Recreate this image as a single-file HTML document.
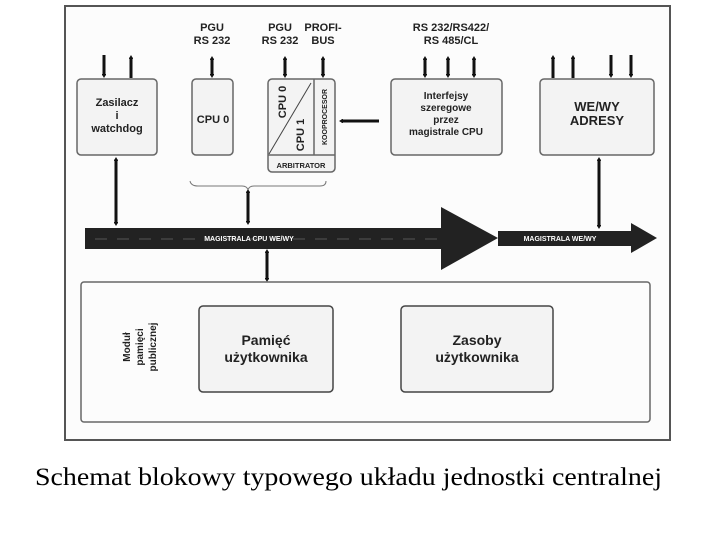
<!DOCTYPE html>
<html><head><meta charset="utf-8"><style>
body{margin:0;background:#fff;width:720px;height:540px;overflow:hidden}
svg{display:block}
text{font-family:"Liberation Sans",sans-serif;font-weight:bold;fill:#222}
</style></head><body>
<svg width="720" height="540" viewBox="0 0 720 540">
<defs>
<marker id="ah" markerWidth="4" markerHeight="4" refX="2" refY="2" orient="auto-start-reverse" markerUnits="userSpaceOnUse"><path d="M0,-1 L0,5 L5,2Z" transform="translate(-1,0)" fill="#111"/></marker>
</defs>
<rect x="65" y="6" width="605" height="434" fill="#fcfcfc" stroke="#555" stroke-width="2"/>
<g stroke="#111" stroke-width="3" fill="none" marker-end="url(#ah)">
<line x1="104" y1="55" x2="104" y2="76"/>
<line x1="131" y1="78" x2="131" y2="57"/>
<line x1="611" y1="55" x2="611" y2="76"/>
<line x1="631" y1="55" x2="631" y2="76"/>
<line x1="553" y1="78" x2="553" y2="57"/>
<line x1="573" y1="78" x2="573" y2="57"/>
<line x1="379" y1="121" x2="341" y2="121"/>
</g>
<g stroke="#111" stroke-width="3" fill="none" marker-start="url(#ah)" marker-end="url(#ah)">
<line x1="212" y1="58" x2="212" y2="76"/>
<line x1="285" y1="58" x2="285" y2="76"/>
<line x1="323" y1="58" x2="323" y2="76"/>
<line x1="425" y1="58" x2="425" y2="76"/>
<line x1="448" y1="58" x2="448" y2="76"/>
<line x1="474" y1="58" x2="474" y2="76"/>
<line x1="116" y1="159" x2="116" y2="224"/>
<line x1="248" y1="191" x2="248" y2="223"/>
<line x1="267" y1="251" x2="267" y2="280"/>
<line x1="599" y1="159" x2="599" y2="227"/>
</g>
<g font-size="11" text-anchor="middle">
<text x="212" y="31">PGU</text><text x="212" y="44">RS 232</text>
<text x="280" y="31">PGU</text><text x="280" y="44">RS 232</text>
<text x="323" y="31">PROFI-</text><text x="323" y="44">BUS</text>
<text x="451" y="31">RS 232/RS422/</text><text x="451" y="44">RS 485/CL</text>
</g>
<g fill="#f3f3f3" stroke="#666" stroke-width="1.5">
<rect x="77" y="79" width="80" height="76" rx="4"/>
<rect x="192" y="79" width="41" height="76" rx="4"/>
<rect x="268" y="79" width="67" height="93" rx="4"/>
<rect x="391" y="79" width="111" height="76" rx="4"/>
<rect x="540" y="79" width="114" height="76" rx="4"/>
</g>
<line x1="268" y1="155" x2="335" y2="155" stroke="#666" stroke-width="1.5"/>
<line x1="314" y1="79" x2="314" y2="155" stroke="#666" stroke-width="1.5"/>
<line x1="269" y1="154" x2="311" y2="83" stroke="#444" stroke-width="1"/>
<g font-size="11" text-anchor="middle">
<text x="117" y="106">Zasilacz</text><text x="117" y="119">i</text><text x="117" y="132">watchdog</text>
<text x="213" y="123">CPU 0</text>
<text x="301" y="168" font-size="7.5">ARBITRATOR</text>
<text x="446" y="99" font-size="10">Interfejsy</text><text x="446" y="111" font-size="10">szeregowe</text><text x="446" y="123" font-size="10">przez</text><text x="446" y="135" font-size="10">magistrale CPU</text>
<text x="597" y="111" font-size="13">WE/WY</text><text x="597" y="125" font-size="13">ADRESY</text>
</g>
<text transform="translate(286,102) rotate(-90)" font-size="11" text-anchor="middle">CPU 0</text>
<text transform="translate(304,135) rotate(-90)" font-size="11" text-anchor="middle">CPU 1</text>
<text transform="translate(327,117) rotate(-90)" font-size="7" text-anchor="middle">KOOPROCESOR</text>
<path d="M190,181 Q191,186 198,186 L242,186 Q247,186 248,190 Q249,186 254,186 L320,186 Q326,186 326,181" fill="none" stroke="#777" stroke-width="1"/>
<path d="M85,228 L441,228 L441,207 L498,238 L441,270 L441,249 L85,249Z" fill="#222"/>
<g stroke="#555" stroke-width="1" stroke-dasharray="12,10"><line x1="95" y1="239" x2="440" y2="239"/></g>
<path d="M498,231 L631,231 L631,223 L657,238 L631,253 L631,246 L498,246Z" fill="#222"/>
<text x="249" y="241" font-size="7" style="fill:#fff" text-anchor="middle">MAGISTRALA CPU WE/WY</text>
<text x="560" y="241" font-size="7" style="fill:#fff" text-anchor="middle">MAGISTRALA WE/WY</text>
<rect x="81" y="282" width="569" height="140" rx="3" fill="#fcfcfc" stroke="#666" stroke-width="1.5"/>
<g fill="#f3f3f3" stroke="#444" stroke-width="1.5">
<rect x="199" y="306" width="134" height="86" rx="4"/>
<rect x="401" y="306" width="152" height="86" rx="4"/>
</g>
<g font-size="10" text-anchor="middle">
<text transform="translate(130,347) rotate(-90)">Moduł</text>
<text transform="translate(143,347) rotate(-90)">pamięci</text>
<text transform="translate(156,347) rotate(-90)">publicznej</text>
</g>
<g font-size="14" text-anchor="middle">
<text x="266" y="345">Pamięć</text><text x="266" y="362">użytkownika</text>
<text x="477" y="345">Zasoby</text><text x="477" y="362">użytkownika</text>
</g>
<text x="35" y="485" font-size="25" textLength="627" lengthAdjust="spacingAndGlyphs" style="font-family:'Liberation Serif',serif;font-weight:normal;fill:#000">Schemat blokowy typowego układu jednostki centralnej</text>
</svg>
</body></html>
